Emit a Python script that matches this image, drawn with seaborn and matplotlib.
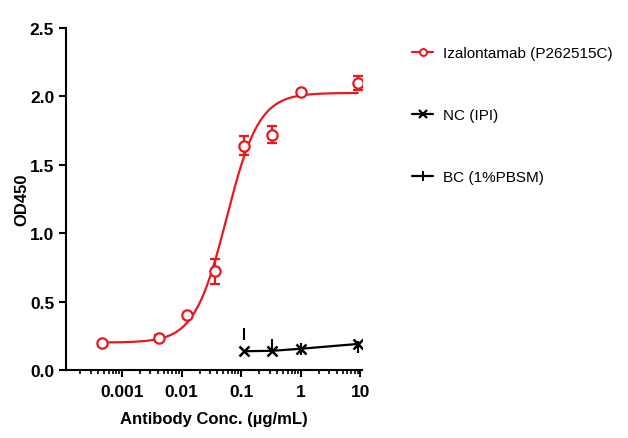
import numpy as np
import pandas as pd
import seaborn as sns
import matplotlib.pyplot as plt
from matplotlib.lines import Line2D
from matplotlib.ticker import LogLocator, FixedLocator, NullFormatter

# data
conc = [0.000457, 0.00412, 0.0123, 0.037, 0.111, 0.333, 1.0, 9.0]
od_iza = [0.195, 0.234, 0.40, 0.72, 1.64, 1.72, 2.03, 2.10]
err_iza = [0.02, 0.02, 0.02, 0.09, 0.07, 0.06, 0.02, 0.05]

conc_ctrl = [0.111, 0.333, 1.0, 9.0]
od_nc = [0.137, 0.140, 0.155, 0.190]
od_bc = [0.26, 0.18, 0.15, 0.17]

# 4PL fit parameters for the Izalontamab curve
fit_bottom, fit_top, fit_ec50, fit_hill = 0.20, 2.025, 0.057, 1.6

red = '#e8191e'

sns.set_style("ticks", rc={"axes.edgecolor": "black", "xtick.color": "black",
                           "ytick.color": "black", "text.color": "black",
                           "axes.labelcolor": "black"})
plt.rcParams['font.family'] = ['Liberation Sans', 'DejaVu Sans']

fig = plt.figure(figsize=(6.28, 4.39), dpi=100)
ax = fig.add_axes([0.105, 0.155, 0.471, 0.779])

xs = np.logspace(np.log10(conc[0]), np.log10(conc[-1]), 300)
curve = fit_bottom + (fit_top - fit_bottom) / (1 + (fit_ec50 / xs) ** fit_hill)
fit_df = pd.DataFrame({'x': xs, 'y': curve})
sns.lineplot(data=fit_df, x='x', y='y', color=red, lw=1.6, ax=ax)

ax.errorbar(conc, od_iza, yerr=err_iza, fmt='none', ecolor=red, elinewidth=1.6,
            capsize=3.5, capthick=1.6, zorder=3)
pts = pd.DataFrame({'x': conc, 'y': od_iza})
sns.scatterplot(data=pts, x='x', y='y', marker='o', s=55, facecolor='white',
                edgecolor=red, linewidth=1.6, ax=ax, zorder=4)

nc_df = pd.DataFrame({'x': conc_ctrl, 'y': od_nc})
sns.lineplot(data=nc_df, x='x', y='y', color='black', lw=1.6, ax=ax)
ax.plot(conc_ctrl, od_nc, linestyle='none', marker='x', color='black',
        markersize=7, markeredgewidth=1.8, zorder=4)
ax.plot(conc_ctrl, od_bc, linestyle='none', marker='|', color='black',
        markersize=8, markeredgewidth=1.5, zorder=4)

ax.set_xscale('log')
ax.set_xlim(1.15e-4, 10.5)
ax.set_ylim(0, 2.5)
ax.set_yticks([0, 0.5, 1.0, 1.5, 2.0, 2.5])
ax.set_yticklabels(['0.0', '0.5', '1.0', '1.5', '2.0', '2.5'])
ax.xaxis.set_major_locator(FixedLocator([0.001, 0.01, 0.1, 1, 10]))
ax.set_xticklabels(['0.001', '0.01', '0.1', '1', '10'])
ax.xaxis.set_minor_locator(LogLocator(base=10, subs=np.arange(2, 10)))
ax.xaxis.set_minor_formatter(NullFormatter())

ax.set_xlabel('Antibody Conc. (µg/mL)', fontsize=12, fontweight='bold', labelpad=9)
ax.set_ylabel('OD450', fontsize=12, fontweight='bold', labelpad=0)
for lab in ax.get_xticklabels() + ax.get_yticklabels():
    lab.set_fontweight('bold')
    lab.set_fontsize(12.5)

ax.tick_params(axis='both', which='major', length=5, width=1.5, direction='out')
ax.tick_params(axis='x', which='major', pad=5)
ax.tick_params(axis='x', which='minor', length=3, width=1.2)
for s in ['left', 'bottom']:
    ax.spines[s].set_linewidth(1.5)
sns.despine(ax=ax)

handles = [
    Line2D([], [], color=red, lw=1.6, marker='o', markersize=5,
           markerfacecolor='white', markeredgewidth=1.4),
    Line2D([], [], color='black', lw=1.6, marker='x', markersize=6,
           markeredgewidth=1.6),
    Line2D([], [], color='black', lw=1.6, marker='|', markersize=7,
           markeredgewidth=1.4),
]
labels = ['Izalontamab (P262515C)', 'NC (IPI)', 'BC (1%PBSM)']
fig.legend(handles, labels, loc='upper left', bbox_to_anchor=(0.656, 0.893),
           frameon=False, fontsize=11, handlelength=1.4, handletextpad=0.65,
           labelspacing=3.15, borderpad=0, borderaxespad=0)

fig.savefig('out.png', dpi=100)
